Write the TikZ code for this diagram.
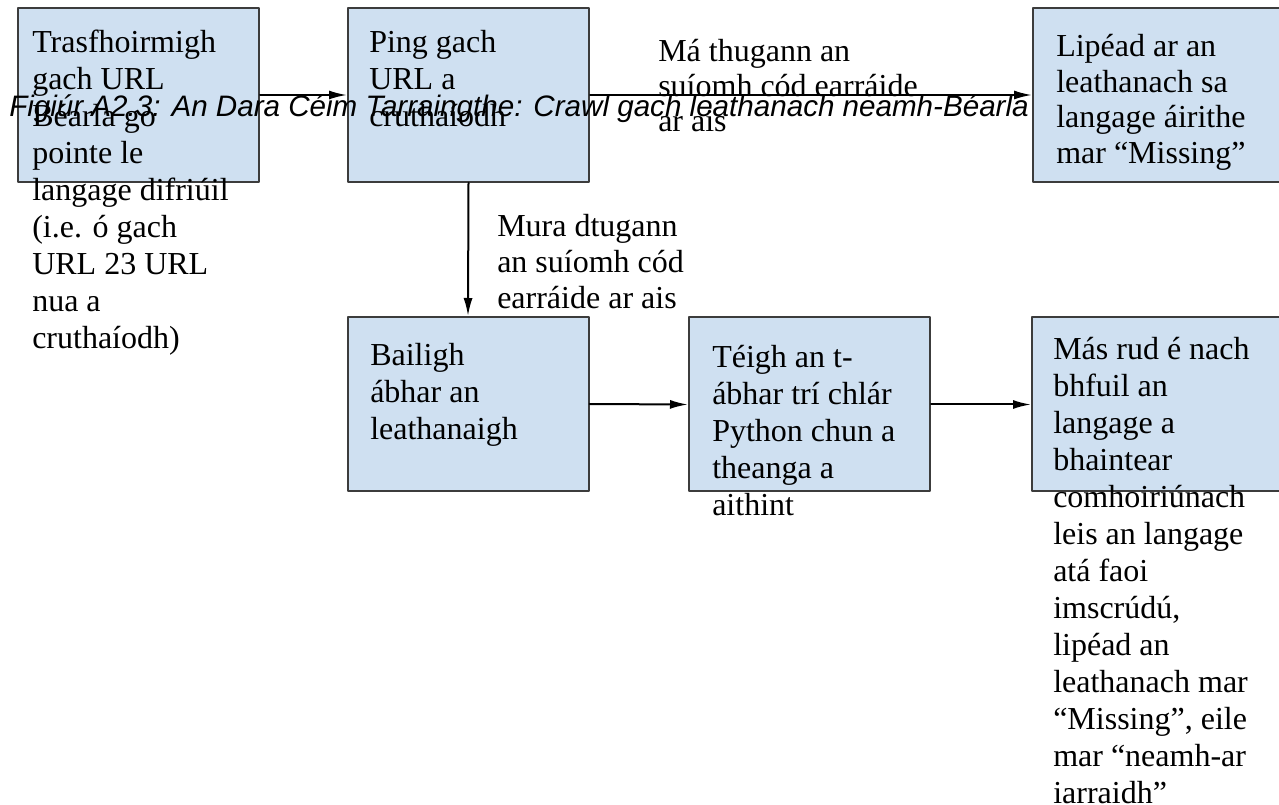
\documentclass[tikz,border=0pt]{standalone}
\usepackage{fontspec}
\setmainfont{Liberation Serif}
\newfontfamily\capfont{Liberation Sans}
\usetikzlibrary{arrows.meta}
\definecolor{boxfill}{RGB}{207,224,241}
\definecolor{boxline}{RGB}{60,60,60}
\newcommand{\lines}[1]{\begin{tabular}[t]{@{}l@{}}#1\end{tabular}}

\begin{document}
\begin{tikzpicture}[line cap=round,line join=round,x=0.75pt,y=-0.75pt,
  box/.style={draw=boxline,fill=boxfill,line width=1.5pt,inner sep=0pt,minimum width=180.75pt,minimum height=130.5pt},
  txt/.style={inner sep=0pt,anchor=base west,font=\fontsize{24}{27.75}\selectfont},
  flow/.style={-{Latex[length=13.5pt,width=6.75pt]},line width=1.5pt}]
\clip (0,0) rectangle (1279,805);
\fill[white] (0,0) rectangle (1279,805);
% boxes
\node[box] (trans) at (138.5,95) {};
\node[box] (ping) at (468.5,95) {};
\node[box,minimum width=192.75pt] (lipead) at (1161.5,95) {};
\node[box] (bailigh) at (468,404) {};
\node[box] (teigh) at (809.5,404.5) {};
\node[box,minimum width=193.5pt] (mas) at (1161,404.5) {};
% arrows
\draw[flow] (trans.east) -- (ping.west);
\draw[flow] (ping.east) -- (lipead.west);
\draw[flow] (ping.south) -- (bailigh.north);
\draw[flow] (bailigh.east) -- (teigh.west);
\draw[flow] (teigh.east) -- (mas.west);
% texts
\node[txt] (transtext) at (32,53) {\lines{Trasfhoirmigh\\gach URL\\Béarla go\\pointe le\\langage difriúil\\(i.e. ó gach\\URL 23 URL\\nua a\\cruthaíodh)}};
\node[txt] (pingtext) at (369,53) {\lines{Ping gach\\URL a\\cruthaíodh}};
\node[txt,font=\fontsize{24}{26.6}\selectfont] (lipeadtext) at (1056,57) {\lines{Lipéad ar an\\leathanach sa\\langage áirithe\\mar “Missing”}};
\node[txt,font=\fontsize{24}{26.25}\selectfont] (malabel) at (658,62) {\lines{Má thugann an\\suíomh cód earráide\\ar ais}};
\node[txt,font=\fontsize{24}{27}\selectfont] (muralabel) at (497,237) {\lines{Mura dtugann\\an suíomh cód\\earráide ar ais}};
\node[txt] (bailightext) at (370,366) {\lines{Bailigh\\ábhar an\\leathanaigh}};
\node[txt] (teightext) at (712,368) {\lines{Téigh an t-\\ábhar trí chlár\\Python chun a\\theanga a\\aithint}};
\node[txt] (mastext) at (1053,360) {\lines{Más rud é nach\\bhfuil an\\langage a\\bhaintear\\comhoiriúnach\\leis an langage\\atá faoi\\imscrúdú,\\lipéad an\\leathanach mar\\“Missing”, eile\\mar “neamh-ar\\iarraidh”}};
% caption
\node[anchor=base west,inner sep=0pt,font=\capfont\itshape\fontsize{22.2}{26}\selectfont] (caption) at (9,117) {Figiúr A2.3: An Dara Céim Tarraingthe: Crawl gach leathanach neamh-Béarla};
\end{tikzpicture}
\end{document}
